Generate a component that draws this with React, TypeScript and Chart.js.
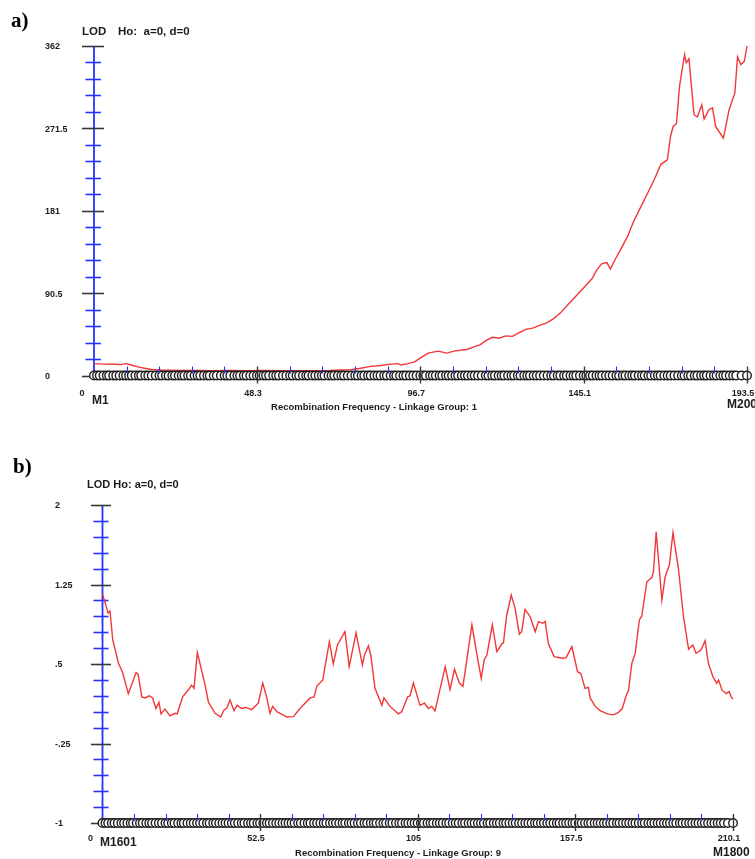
import React, { useEffect, useRef } from "react";
import { Chart, registerables } from "chart.js";

Chart.register(...registerables);

// ---------- Linkage group 1 ----------
const lg1MarkerPos = [
  0, 0.9, 1.7, 2.8, 3.8, 4.5, 5.7, 6.6, 7.6, 8.7, 9.5, 10.4, 11.2, 12.3, 13.3, 14.0, 15.2, 16.1, 17.1, 18.3,
  19.4, 20.2, 21.3, 22.1, 23.2, 24.0, 25.1, 26.0, 26.8, 27.9, 28.7, 29.8, 30.7, 31.5, 32.6, 33.6, 34.3, 35.5, 36.4, 37.6,
  38.7, 39.5, 40.4, 41.6, 42.5, 43.3, 44.4, 45.2, 46.3, 47.3, 48.3, 49.1, 50.2, 51.0, 51.9, 53.1, 54.0, 54.8, 56.0, 57.0,
  58.1, 58.9, 60.0, 60.8, 61.9, 62.9, 63.6, 64.7, 65.6, 66.6, 67.5, 68.3, 69.5, 70.4, 71.2, 72.3, 73.3, 74.1, 75.2, 76.3,
  77.4, 78.2, 79.3, 80.1, 81.2, 82.0, 83.1, 84.0, 84.9, 86.0, 86.8, 87.9, 88.9, 89.6, 90.7, 91.7, 92.5, 93.6, 94.6, 95.6,
  96.7, 97.6, 98.4, 99.6, 100.4, 101.3, 102.4, 103.2, 104.3, 105.1, 106.1, 107.1, 107.9, 109.0, 109.9, 110.8, 111.9, 112.8, 113.8, 114.9,
  116.1, 116.9, 118.0, 118.8, 119.9, 120.8, 121.6, 122.7, 123.7, 124.5, 125.6, 126.4, 127.5, 128.4, 129.2, 130.3, 131.2, 132.2, 133.3, 134.4,
  135.5, 136.3, 137.4, 138.2, 139.3, 140.1, 141.2, 142.1, 142.9, 144.0, 145.1, 145.9, 147.0, 147.8, 148.9, 149.8, 150.6, 151.7, 152.7, 153.7,
  154.8, 155.6, 156.7, 157.5, 158.6, 159.5, 160.3, 161.4, 162.4, 163.2, 164.3, 165.1, 166.2, 167.1, 167.9, 169.0, 170.0, 170.9, 172.0, 173.1,
  174.2, 175.0, 176.1, 176.9, 178.0, 178.8, 179.9, 180.8, 181.6, 182.7, 183.7, 184.5, 185.6, 186.5, 187.3, 188.4, 189.4, 190.3, 191.9, 193.5,
];

const lg1Pos = [
  0, 3, 6, 8, 9.5, 11, 13, 15, 17, 20, 25, 30, 35, 40, 45, 50, 55, 60, 65, 70,
  73, 76, 79, 82, 85, 88, 90, 91, 93, 95, 97, 99, 102, 104.5, 107, 110.5, 113, 114.5, 116, 118,
  120, 122, 124, 126, 128, 130, 132, 134, 136, 138, 140, 142.5, 144, 146, 147.5, 149, 150.5, 152, 153, 154.5,
  156, 158, 160, 162, 164, 166, 168, 169.9, 170.8, 171.6, 172.6, 173.5, 175, 175.5, 176.3, 177.8, 178.8, 180.1, 180.8, 182.2,
  183.3, 184.2, 186.5, 188.2, 189.9, 190.7, 191.7, 192.7, 193.5,
];
const lg1Lod = [
  13, 12.5, 12.4, 12, 13, 11.5, 9.5, 8, 6.6, 6, 5.6, 5.5, 5.4, 5.6, 5.3, 5.5, 5.2, 5.4, 5.3, 5.5,
  6, 6.3, 8, 10, 11, 12.5, 13, 11.5, 13, 15, 20, 24.6, 26.8, 24.6, 27, 28.6, 32, 34, 38, 42,
  41, 43.5, 43, 47, 50.7, 52, 55, 57.6, 62, 68, 76, 86, 92, 100, 106, 116, 123, 124, 117, 128,
  138, 152, 170, 185, 200, 215, 232, 237, 262, 273.6, 276.6, 317.7, 352.6, 343.5, 347.9, 286.5, 284, 297.5, 281.8, 292,
  294, 273.6, 260.8, 292, 310.4, 350, 341.6, 345, 362,
];

const lg1YTicks = [362, 271.5, 181, 90.5, 0];
const lg1YTickLabels = ["362", "271.5", "181", "90.5", "0"];
const lg1XTicks = [0, 48.3, 96.7, 145.1, 193.5];
const lg1XTickLabels = ["0", "48.3", "96.7", "145.1", "193.5"];

// ---------- Linkage group 9 ----------
const lg9MarkerPos = [
  0, 1.0, 1.9, 3.1, 4.0, 5.1, 6.3, 7.2, 8.3, 9.4, 10.2, 11.4, 12.5, 13.4, 14.6, 15.6, 16.5, 17.7, 18.8, 19.8,
  21.0, 21.9, 23.1, 24.0, 25.2, 26.3, 27.1, 28.3, 29.4, 30.4, 31.5, 32.5, 33.6, 34.8, 35.7, 36.9, 37.8, 38.9, 40.0, 41.0,
  42.0, 43.1, 44.1, 45.2, 46.4, 47.3, 48.5, 49.5, 50.4, 51.6, 52.5, 53.6, 54.8, 55.7, 56.8, 57.9, 58.9, 60.0, 61.0, 62.0,
  63.0, 64.0, 65.2, 66.1, 67.3, 68.4, 69.3, 70.5, 71.5, 72.6, 73.7, 74.6, 75.8, 76.8, 77.8, 78.9, 80.0, 80.9, 82.1, 83.0,
  84.0, 85.1, 86.1, 87.3, 88.2, 89.4, 90.4, 91.3, 92.5, 93.6, 94.5, 95.7, 96.6, 97.8, 98.9, 99.8, 101.0, 101.9, 103.0, 104.0,
  105.0, 106.1, 107.1, 108.3, 109.3, 110.2, 111.4, 112.4, 113.4, 114.6, 115.5, 116.7, 117.7, 118.7, 119.9, 120.8, 122.0, 123.0, 124.0, 125.1,
  126.1, 127.1, 128.3, 129.2, 130.4, 131.4, 132.4, 133.6, 134.5, 135.6, 136.7, 137.7, 138.8, 139.8, 140.9, 141.9, 143.0, 144.1, 145.0, 146.1,
  147.1, 148.2, 149.2, 150.3, 151.4, 152.3, 153.5, 154.5, 155.5, 156.6, 157.5, 158.7, 159.7, 160.8, 161.9, 162.8, 164.0, 165.0, 166.0, 167.1,
  168.1, 169.2, 170.2, 171.4, 172.3, 173.4, 174.5, 175.5, 176.6, 177.6, 178.7, 179.8, 180.7, 181.9, 182.9, 183.9, 185.0, 186.0, 187.1, 188.1,
  189.1, 190.2, 191.2, 192.4, 193.3, 194.4, 195.5, 196.5, 197.6, 198.6, 199.7, 200.7, 201.8, 202.9, 203.9, 205.0, 206.0, 207.1, 208.4, 210.1,
];

const lg9Pos = [
  0, 1.9, 2.5, 3.4, 5.3, 6.7, 8.6, 11.2, 11.9, 13.1, 14.2, 15.6, 16.7, 17.8, 18.8, 19.5, 20.8, 22.5, 24.2, 24.9,
  26.7, 28.6, 29.7, 30.5, 31.6, 33.1, 34.2, 35.3, 37.5, 39.4, 40.5, 41.4, 42.5, 43.8, 44.9, 46.4, 47.8, 49.7, 51.9, 53.4,
  54.7, 55.8, 56.7, 58.1, 61.4, 63.6, 65.8, 69.2, 70.5, 71.4, 73.4, 75.6, 76.9, 78.3, 80.8, 82.2, 84.5, 86.6, 87.3, 88.6,
  89.4, 90.8, 93.1, 93.8, 95.8, 98.6, 99.7, 101.7, 102.5, 103.6, 105.8, 107.3, 108.6, 109.7, 110.8, 114.2, 115.8, 117.3, 118.9, 120.1,
  123.1, 124.7, 126.2, 127.2, 128.1, 129.9, 131.4, 133.1, 133.6, 134.7, 136.2, 137.5, 138.9, 139.7, 140.8, 142.5, 144.2, 145.3, 146.7, 147.5,
  148.6, 150.5, 153.1, 154.5, 156.4, 158.3, 159.4, 160.8, 161.9, 162.5, 164.2, 165.8, 168.2, 170.2, 171.8, 173.2, 174.5, 175.3, 176.4, 177.5,
  178.9, 179.7, 181.4, 183.1, 183.6, 184.5, 186.4, 187.5, 188.9, 190.1, 191.9, 193.6, 195.3, 196.7, 197.8, 199.4, 200.8, 201.9, 203.4, 204.7,
  205.3, 206.4, 207.8, 208.8, 209.5, 210.1,
];
const lg9Lod = [
  1.16, 0.98, 1.0, 0.73, 0.51, 0.42, 0.22, 0.42, 0.4, 0.19, 0.18, 0.2, 0.18, 0.08, 0.14, 0.03, 0.075, 0.01, 0.035, 0.03,
  0.19, 0.255, 0.3, 0.27, 0.61, 0.43, 0.3, 0.14, 0.035, 0.0, 0.066, 0.082, 0.16, 0.06, 0.11, 0.08, 0.09, 0.07, 0.13, 0.32,
  0.19, 0.035, 0.1, 0.05, 0.0, 0.003, 0.08, 0.18, 0.19, 0.29, 0.35, 0.71, 0.5, 0.68, 0.805, 0.475, 0.795, 0.49, 0.585, 0.67,
  0.585, 0.27, 0.11, 0.18, 0.1, 0.03, 0.05, 0.19, 0.2, 0.32, 0.11, 0.13, 0.08, 0.1, 0.057, 0.475, 0.26, 0.45, 0.32, 0.29,
  0.87, 0.6, 0.365, 0.54, 0.585, 0.87, 0.616, 0.69, 0.7, 0.96, 1.15, 1.025, 0.78, 0.805, 1.016, 0.946, 0.805, 0.9, 0.884, 0.9,
  0.69, 0.57, 0.554, 0.56, 0.664, 0.427, 0.41, 0.27, 0.28, 0.18, 0.1, 0.06, 0.03, 0.02, 0.04, 0.08, 0.2, 0.255, 0.507, 0.6,
  0.915, 0.953, 1.276, 1.318, 1.371, 1.748, 1.104, 1.324, 1.434, 1.739, 1.403, 0.946, 0.639, 0.679, 0.601, 0.632, 0.72, 0.507, 0.38, 0.318,
  0.349, 0.255, 0.22, 0.24, 0.19, 0.17,
];

const lg9YTicks = [2, 1.25, 0.5, -0.25, -1];
const lg9YTickLabels = ["2", "1.25", ".5", "-.25", "-1"];
const lg9XTicks = [0, 52.5, 105, 157.5, 210.1];
const lg9XTickLabels = ["0", "52.5", "105", "157.5", "210.1"];

// ---------- drawing ----------
const RED = "rgb(242, 55, 55)";
const BLUE = "rgb(34, 52, 255)";
const DARK = "rgb(55, 55, 55)";
const TEXT = "#1c1c1c";
const SANS = "'Liberation Sans', Arial, sans-serif";
const SERIF = "'Liberation Serif', 'Times New Roman', serif";

type Panel = {
  tag: string;
  tagXY: [number, number];
  title: string;
  titleX: number;
  ho: string;
  hoX: number;
  titleY: number;
  titleFont: string;
  xTitle: string;
  xTitleXY: [number, number];
  firstMarker: string;
  firstMarkerXY: [number, number];
  lastMarker: string;
  lastMarkerXY: [number, number];
  markerPos: number[];
  curvePos: number[];
  curveLod: number[];
  yTicks: number[];
  yTickLabels: string[];
  yLabelX: number;
  xTicks: number[];
  xTickLabels: string[];
  xLabelDy: number;
  majorTick: [number, number];
  minorTick: [number, number];
  height: number;
  padding: { left: number; right: number; top: number; bottom: number };
};

const panels: Panel[] = [
  {
    tag: "a)",
    tagXY: [11, 27],
    title: "LOD",
    titleX: 82,
    ho: "Ho:  a=0, d=0",
    hoX: 118,
    titleY: 32,
    titleFont: `bold 11.5px ${SANS}`,
    xTitle: "Recombination Frequency - Linkage Group: 1",
    xTitleXY: [374, 407],
    firstMarker: "M1",
    firstMarkerXY: [92, 401],
    lastMarker: "M200",
    lastMarkerXY: [727, 405],
    markerPos: lg1MarkerPos,
    curvePos: lg1Pos,
    curveLod: lg1Lod,
    yTicks: lg1YTicks,
    yTickLabels: lg1YTickLabels,
    yLabelX: 45,
    xTicks: lg1XTicks,
    xTickLabels: lg1XTickLabels,
    xLabelDy: 18,
    majorTick: [12, 10],
    minorTick: [8.5, 7],
    height: 420,
    padding: { left: 94, right: 8, top: 46, bottom: 44.5 },
  },
  {
    tag: "b)",
    tagXY: [13, 473 - 420],
    title: "LOD Ho: a=0, d=0",
    titleX: 87,
    ho: "",
    hoX: 0,
    titleY: 485 - 420,
    titleFont: `bold 11px ${SANS}`,
    xTitle: "Recombination Frequency - Linkage Group: 9",
    xTitleXY: [398, 853 - 420],
    firstMarker: "M1601",
    firstMarkerXY: [100, 843 - 420],
    lastMarker: "M1800",
    lastMarkerXY: [713, 853 - 420],
    markerPos: lg9MarkerPos,
    curvePos: lg9Pos,
    curveLod: lg9Lod,
    yTicks: lg9YTicks,
    yTickLabels: lg9YTickLabels,
    yLabelX: 55,
    xTicks: lg9XTicks,
    xTickLabels: lg9XTickLabels,
    xLabelDy: 16,
    majorTick: [11.5, 8.5],
    minorTick: [9, 6],
    height: 439,
    padding: { left: 102.5, right: 22, top: 85, bottom: 36 },
  },
];

function line(ctx: CanvasRenderingContext2D, x1: number, y1: number, x2: number, y2: number) {
  ctx.beginPath();
  ctx.moveTo(x1, y1);
  ctx.lineTo(x2, y2);
  ctx.stroke();
}

function makeDecor(p: Panel) {
  const yMin = p.yTicks[p.yTicks.length - 1];
  const xMax = p.xTicks[p.xTicks.length - 1];
  return {
    id: "linkageDecor",
    beforeDatasetsDraw(chart: any) {
      const { ctx } = chart;
      const x = chart.scales.x;
      const y = chart.scales.y;
      const ax = x.getPixelForValue(0);
      const y0 = y.getPixelForValue(yMin);
      ctx.save();
      ctx.lineCap = "butt";
      // vertical LOD axis
      ctx.strokeStyle = BLUE;
      ctx.lineWidth = 1.8;
      line(ctx, ax, y.getPixelForValue(p.yTicks[0]), ax, y0);
      // minor LOD ticks
      ctx.lineWidth = 1.6;
      for (let i = 0; i < p.yTicks.length - 1; i++) {
        const a = p.yTicks[i];
        const b = p.yTicks[i + 1];
        for (let k = 1; k < 5; k++) {
          const py = Math.round(y.getPixelForValue(a + ((b - a) * k) / 5)) + 0.5;
          line(ctx, ax - p.minorTick[0], py, ax + p.minorTick[1], py);
        }
      }
      // major LOD ticks
      ctx.strokeStyle = DARK;
      ctx.lineWidth = 1.6;
      for (const v of p.yTicks) {
        const py = Math.round(y.getPixelForValue(v)) + 0.5;
        line(ctx, ax - p.majorTick[0], py, ax + p.majorTick[1], py);
      }
      // map axis
      ctx.lineWidth = 1.3;
      line(ctx, ax, y0, x.getPixelForValue(xMax), y0);
      ctx.restore();
    },
    afterDatasetsDraw(chart: any) {
      const { ctx } = chart;
      const x = chart.scales.x;
      const y = chart.scales.y;
      const ax = x.getPixelForValue(0);
      const y0 = y.getPixelForValue(yMin);
      ctx.save();
      // minor map ticks
      ctx.strokeStyle = BLUE;
      ctx.lineWidth = 1.1;
      for (let i = 0; i < p.xTicks.length - 1; i++) {
        const a = p.xTicks[i];
        const b = p.xTicks[i + 1];
        for (let k = 1; k < 5; k++) {
          const px = Math.round(x.getPixelForValue(a + ((b - a) * k) / 5)) + 0.5;
          line(ctx, px, y0 - 9, px, y0 - 2);
        }
      }
      // major map ticks
      ctx.strokeStyle = DARK;
      ctx.lineWidth = 1.4;
      for (const v of p.xTicks.slice(1)) {
        const px = Math.round(x.getPixelForValue(v)) + 0.5;
        line(ctx, px, y0 - 9, px, y0 + 8);
      }

      ctx.fillStyle = TEXT;
      ctx.textBaseline = "middle";

      // tick labels
      ctx.font = `bold 9px ${SANS}`;
      ctx.textAlign = "left";
      p.yTicks.forEach((v, i) => {
        ctx.fillText(p.yTickLabels[i], p.yLabelX, y.getPixelForValue(v) + 1);
      });
      ctx.textAlign = "center";
      p.xTicks.forEach((v, i) => {
        const px = v === 0 ? ax - 12 : x.getPixelForValue(v) - 4;
        ctx.fillText(p.xTickLabels[i], px, y0 + p.xLabelDy);
      });

      // marker names at both ends
      ctx.font = `bold 12px ${SANS}`;
      ctx.textAlign = "left";
      ctx.fillText(p.firstMarker, p.firstMarkerXY[0], p.firstMarkerXY[1]);
      ctx.fillText(p.lastMarker, p.lastMarkerXY[0], p.lastMarkerXY[1]);

      // map axis title
      ctx.font = `bold 9.5px ${SANS}`;
      ctx.textAlign = "center";
      ctx.fillText(p.xTitle, p.xTitleXY[0], p.xTitleXY[1]);

      // LOD header
      ctx.font = p.titleFont;
      ctx.textAlign = "left";
      ctx.fillText(p.title, p.titleX, p.titleY);
      if (p.ho) ctx.fillText(p.ho, p.hoX, p.titleY);

      // panel tag
      ctx.font = `bold 21px ${SERIF}`;
      ctx.textBaseline = "alphabetic";
      ctx.fillStyle = "#000";
      ctx.fillText(p.tag, p.tagXY[0], p.tagXY[1]);
      ctx.restore();
    },
  };
}

function LodPanel({ panel }: { panel: Panel }) {
  const ref = useRef<HTMLCanvasElement>(null);

  useEffect(() => {
    if (!ref.current) return;
    const yMin = panel.yTicks[panel.yTicks.length - 1];
    const yMax = panel.yTicks[0];
    const xMax = panel.xTicks[panel.xTicks.length - 1];
    const chart = new Chart(ref.current, {
      type: "scatter",
      data: {
        datasets: [
          {
            label: "Markers",
            data: panel.markerPos.map((v) => ({ x: v, y: yMin })),
            showLine: false,
            pointRadius: 4.3,
            pointHoverRadius: 4.3,
            pointBackgroundColor: "#ffffff",
            pointBorderColor: "rgb(30, 30, 30)",
            pointBorderWidth: 1.4,
            order: 0,
            clip: false,
          },
          {
            label: "LOD",
            data: panel.curvePos.map((v, i) => ({ x: v, y: panel.curveLod[i] })),
            showLine: true,
            borderColor: RED,
            borderWidth: 1.4,
            pointRadius: 0,
            pointHoverRadius: 0,
            tension: 0,
            order: 1,
            clip: false,
          },
        ],
      },
      options: {
        animation: false,
        responsive: false,
        devicePixelRatio: 1,
        events: [],
        layout: { padding: panel.padding },
        plugins: { legend: { display: false }, tooltip: { enabled: false }, title: { display: false } },
        scales: {
          x: { type: "linear", min: 0, max: xMax, display: false },
          y: { type: "linear", min: yMin, max: yMax, display: false },
        },
      },
      plugins: [makeDecor(panel)],
    } as any);
    return () => chart.destroy();
  }, [panel]);

  return (
    <canvas
      ref={ref}
      width={755}
      height={panel.height}
      style={{ display: "block", width: 755, height: panel.height }}
    />
  );
}

export default function App() {
  return (
    <div style={{ position: "absolute", left: 0, top: 0, width: 755, height: 859, background: "#fff", overflow: "hidden" }}>
      {panels.map((p) => (
        <LodPanel key={p.tag} panel={p} />
      ))}
    </div>
  );
}
